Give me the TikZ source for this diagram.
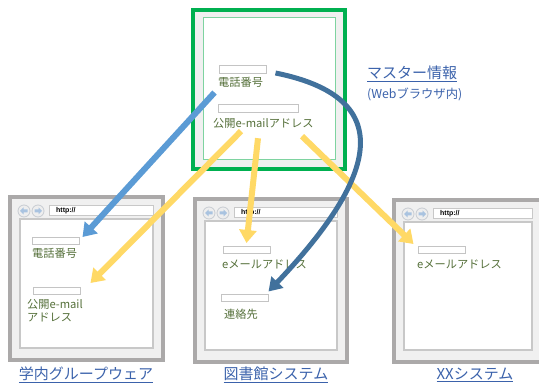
\documentclass[tikz,border=0pt]{standalone}
\usepackage{fontspec}
\setmainfont{Noto Sans CJK JP}
\newfontfamily\urlfont{Liberation Sans}
\usetikzlibrary{arrows.meta,calc}
\definecolor{mgreen}{HTML}{00B050}
\definecolor{lgreen}{HTML}{7ED3A0}
\definecolor{bandgray}{HTML}{F0F0F0}
\definecolor{framegray}{HTML}{ABA9A9}
\definecolor{linegray}{HTML}{C8C8C8}
\definecolor{fieldgray}{HTML}{C4C4C4}
\definecolor{btnline}{HTML}{C8CCD2}
\definecolor{btnfill}{HTML}{EEEEEE}
\definecolor{btnarrow}{HTML}{A9C3E0}
\definecolor{txtgreen}{HTML}{55703A}
\definecolor{labblue}{HTML}{3B62AB}
\definecolor{lblue}{HTML}{5B9BD5}
\definecolor{dblue}{HTML}{41719C}
\definecolor{myyellow}{HTML}{FFD966}
\tikzset{
  field/.style={draw=fieldgray, line width=1pt, fill=white, inner sep=0pt, minimum height=7pt},
  jptext/.style={font=\fontsize{11.2}{13}\selectfont, text=txtgreen, inner sep=0pt, anchor=west, align=left},
  lab/.style={font=\fontsize{15}{17}\selectfont, text=labblue, inner sep=0pt},
  urltext/.style={font=\urlfont\bfseries\fontsize{7}{8}\selectfont, inner sep=0pt, anchor=west},
  arrowbase/.style={line width=6pt, -{Triangle[length=13pt,width=17pt]}},
  yarrow/.style={arrowbase, draw=myyellow, fill=myyellow},
  barrow/.style={arrowbase, draw=lblue, fill=lblue},
  darrow/.style={line width=5pt, draw=dblue, -{Triangle[length=13pt,width=16pt]}},
}
\newcommand\mybrowser[5]{%
  \draw[line width=4pt, draw=framegray, fill=bandgray] (#1,#2) rectangle (#3,#4);
  \draw[line width=1.2pt, draw=linegray, fill=white] ({#1+10},{#2+22}) rectangle ({#3-10},{#4-12});
  \draw[line width=1pt, draw=linegray, fill=white] ({#1+39},{#2+9}) rectangle ({#3-10},{#2+19});
  \draw[line width=0.8pt, draw=btnline, fill=btnfill] ({#1+14},{#2+14}) circle (6pt);
  \draw[line width=0.8pt, draw=btnline, fill=btnfill] ({#1+28},{#2+14}) circle (6pt);
  \fill[btnarrow] ({#1+10},{#2+14}) -- ++(3.5,-3.5) -- ++(0,2) -- ++(4,0) -- ++(0,3) -- ++(-4,0) -- ++(0,2) -- cycle;
  \fill[btnarrow] ({#1+32},{#2+14}) -- ++(-3.5,-3.5) -- ++(0,2) -- ++(-4,0) -- ++(0,3) -- ++(4,0) -- ++(0,2) -- cycle;
  \node[urltext] (#5url) at ({#1+46},{#2+14}) {http://};
}
\begin{document}
\begin{tikzpicture}[x=1pt,y=-1pt]
\useasboundingbox (0,0) rectangle (539,385);
% master box
\draw[line width=4pt, draw=mgreen, fill=bandgray] (193,10) rectangle (345,169);
\draw[line width=1pt, draw=lgreen, fill=white] (203,18) rectangle (335,160);
\node[field, minimum width=47pt, minimum height=8pt] (mf1) at (242.5,70) {};
\node[jptext] (mt1) at (218,82) {電話番号};
\node[field, minimum width=80pt, minimum height=8pt] (mf2) at (258,109) {};
\node[jptext] (mt2) at (213,123) {公開e-mailアドレス};
\node[font=\fontsize{15}{17}\selectfont, text=labblue, inner sep=0pt, anchor=west] (mlab1) at (367,74) {\underline{マスター情報}};
\node[font=\fontsize{12.3}{14}\selectfont, text=labblue, inner sep=0pt, anchor=west] (mlab2) at (367,94) {(Webブラウザ内)};
% left browser
\mybrowser{10}{197}{163}{360}{lb}
\node[field, minimum width=47pt] (lf1) at (55.5,241) {};
\node[jptext] (lt1) at (32,253) {電話番号};
\node[field, minimum width=47pt] (lf2) at (56.5,291) {};
\node[jptext, anchor=north west] (lt2) at (27,299) {公開e-mail\\アドレス};
\node[lab] (lab1) at (86,375) {\underline{学内グループウェア}};
% middle browser
\mybrowser{195}{199}{347}{362}{cb}
\node[field, minimum width=47pt] (cf1) at (246.5,250) {};
\node[jptext] (ct1) at (222,264) {eメールアドレス};
\node[field, minimum width=47pt] (cf2) at (244.5,298.5) {};
\node[jptext] (ct2) at (224,314) {連絡先};
\node[lab] (lab2) at (276,375) {\underline{図書館システム}};
% right browser
\mybrowser{394}{200}{542}{362}{rb}
\node[field, minimum width=47pt] (rf1) at (441.5,250) {};
\node[jptext] (rt1) at (417,264) {eメールアドレス};
\node[lab] (lab3) at (475,375) {\underline{XXシステム}};
% arrows
\coordinate (bs) at ($(mf2.north west)+(-3,-12)$);
\coordinate (y1s) at ($(mt2.south west)+(28,3)$);
\coordinate (y2s) at ($(mt2.south west)+(45,10)$);
\coordinate (y3s) at ($(mt2.south west)+(89,8)$);
\coordinate (ds) at ($(mf1.east)+(9,3)$);
\draw[barrow] (bs) -- ($(lf1.north east)+(3,0)$);
\draw[yarrow] (y1s) -- ($(lf2.north east)+(10,-4)$);
\draw[yarrow] (y2s) -- ($(cf1.north)+(0,-3)$);
\draw[yarrow] (y3s) -- ($(rf1.north west)+(-4,-2)$);
\draw[darrow] (ds) .. controls (410,100) and (365,190) .. ($(cf2.north east)+(0,-3)$);
\end{tikzpicture}
\end{document}
